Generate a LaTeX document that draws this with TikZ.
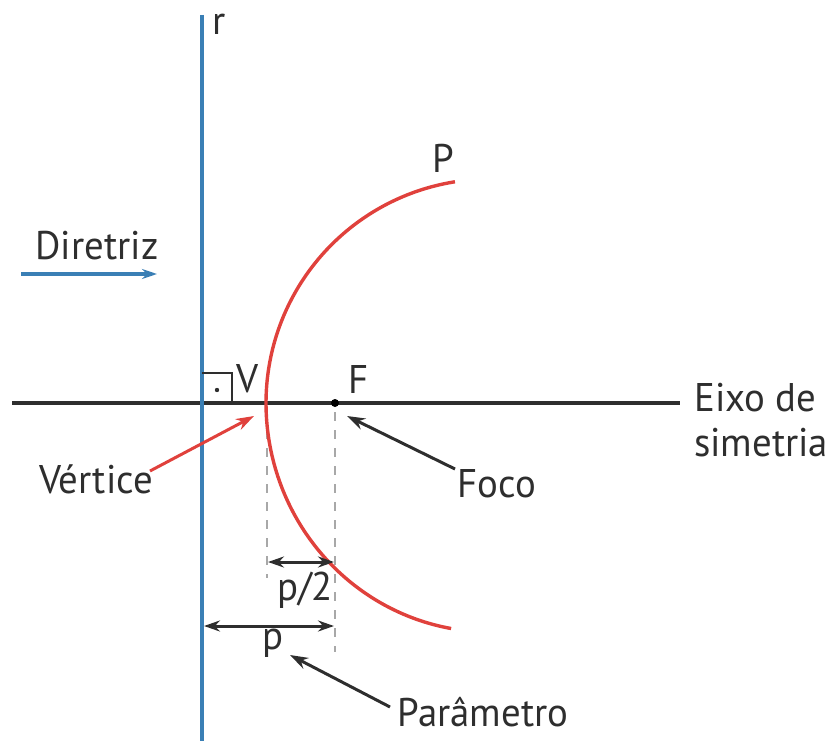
\documentclass[tikz,border=0pt]{standalone}
\usepackage{fontspec}
\setmainfont{PT Sans}[FakeStretch=0.97]
\usetikzlibrary{arrows.meta}
\definecolor{rblue}{HTML}{3A7FB5}
\definecolor{rred}{HTML}{E0413C}
\definecolor{rgray}{HTML}{2E2E2E}
\definecolor{dgray}{HTML}{A8A8A8}
\begin{document}
\begin{tikzpicture}[x=1pt,y=-1pt,
  lbl/.style={font=\fontsize{40}{45}\selectfont, text=rgray, inner sep=0pt},
  tip/.style={-{Stealth[length=18pt,width=12pt]}},
  dim/.style={{Stealth[length=16pt,width=11pt]}-{Stealth[length=16pt,width=11pt]}, rgray, line width=3pt},
  guide/.style={dgray, line width=2pt, dash pattern=on 9pt off 9pt}]
\useasboundingbox (0,0) rectangle (838,741);
% key points
\coordinate (V) at (267,403);
\coordinate (F) at (335,403);
\coordinate (axL) at (12,403);
\coordinate (axR) at (680,403);
\coordinate (rT) at (202,15);
\coordinate (rB) at (202,741);
% axis and directrix
\draw[rgray, line width=3.4pt] (axL) -- (axR);
\draw[rblue, line width=4pt] (rT) -- (rB);
% right angle mark
\draw[rgray, line width=2.6pt] (202,373) -- (232,373) -- (232,403);
\fill[rgray] (217,390) circle (2.2pt);
% guides
\coordinate (Vg) at (267,412);
\coordinate (Vgb) at (267,578);
\coordinate (Fg) at (335,412);
\coordinate (Fgb) at (335,652);
\draw[guide] (Vg) -- (Vgb);
\draw[guide] (Fg) -- (Fgb);
% parabola (drawn as in the reference)
\draw[rred, line width=3.4pt] plot[domain=-81:80, samples=90, smooth] ({490-224*cos(\x)}, {403+(\x<0 ? 224 : 229)*sin(\x)});
% focus point
\node[circle, fill=black, inner sep=0pt, minimum size=8pt] (Fp) at (F) {};
% labels
\node[lbl] (r) at (219,24) {r};
\node[lbl] (dir) at (97,246) {Diretriz};
\node[lbl] (P) at (443,158) {P};
\node[lbl] (Vl) at (248,379) {V};
\node[lbl] (Fl) at (359,379) {F};
\node[lbl, align=left, anchor=west] (eixo) at (694,420) {Eixo de\\simetria};
\node[lbl] (vert) at (96,479) {Vértice};
\node[lbl] (foco) at (497,484) {Foco};
\node[lbl] (p2) at (305,590) {p/2};
\node[lbl] (p) at (273,643) {p};
\node[lbl] (par) at (483,712) {Parâmetro};
% Diretriz arrow
\coordinate (dA) at (21,274);
\coordinate (dB) at (157,274);
\draw[rblue, line width=3.2pt, -{Stealth[length=15pt,width=10pt]}] (dA) -- (dB);
% pointer arrows
\coordinate (vA) at (150,471);
\coordinate (vB) at (254,416);
\draw[rred, line width=3pt, tip] (vA) -- (vB);
\coordinate (fA) at (455,469);
\coordinate (fB) at (347,416);
\draw[rgray, line width=3pt, tip] (fA) -- (fB);
\coordinate (pA) at (390,707);
\coordinate (pB) at (290,655);
\draw[rgray, line width=3pt, tip] (pA) -- (pB);
% dimension arrows
\coordinate (d1a) at (268,562);
\coordinate (d1b) at (334,562);
\draw[dim] (d1a) -- (d1b);
\coordinate (d2a) at (204,626);
\coordinate (d2b) at (334,626);
\draw[dim] (d2a) -- (d2b);
\end{tikzpicture}
\end{document}
